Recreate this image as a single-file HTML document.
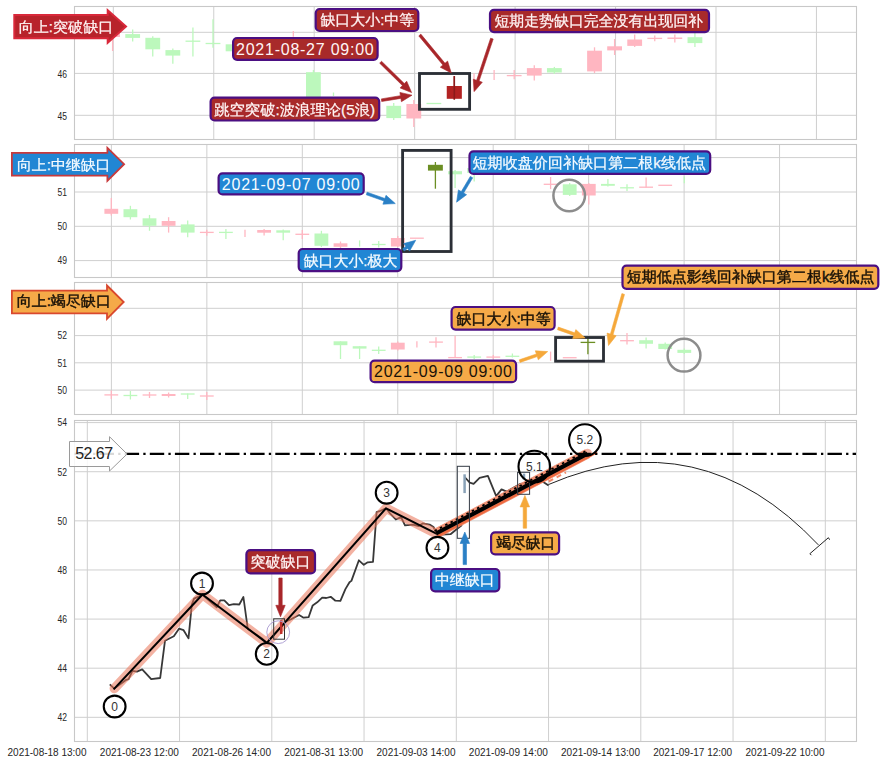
<!DOCTYPE html>
<html><head><meta charset="utf-8"><style>html,body{margin:0;padding:0;background:#fff;overflow:hidden}svg{display:block}</style></head>
<body><svg width="881" height="764" viewBox="0 0 881 764">
<rect width="881" height="764" fill="#fff"/>
<rect x="74.5" y="6.5" width="782.0" height="133.0" fill="#fff"/>
<line x1="74.5" y1="32.3" x2="856.5" y2="32.3" stroke="#cfcfcf" stroke-width="1"/>
<line x1="74.5" y1="73.4" x2="856.5" y2="73.4" stroke="#cfcfcf" stroke-width="1"/>
<line x1="74.5" y1="115.3" x2="856.5" y2="115.3" stroke="#cfcfcf" stroke-width="1"/>
<line x1="113.3" y1="6.5" x2="113.3" y2="139.5" stroke="#cfcfcf" stroke-width="1"/>
<line x1="213.75" y1="6.5" x2="213.75" y2="139.5" stroke="#cfcfcf" stroke-width="1"/>
<line x1="314.2" y1="6.5" x2="314.2" y2="139.5" stroke="#cfcfcf" stroke-width="1"/>
<line x1="414.65000000000003" y1="6.5" x2="414.65000000000003" y2="139.5" stroke="#cfcfcf" stroke-width="1"/>
<line x1="515.1" y1="6.5" x2="515.1" y2="139.5" stroke="#cfcfcf" stroke-width="1"/>
<line x1="615.55" y1="6.5" x2="615.55" y2="139.5" stroke="#cfcfcf" stroke-width="1"/>
<line x1="716.0" y1="6.5" x2="716.0" y2="139.5" stroke="#cfcfcf" stroke-width="1"/>
<line x1="816.4499999999999" y1="6.5" x2="816.4499999999999" y2="139.5" stroke="#cfcfcf" stroke-width="1"/>
<line x1="112.60" y1="22" x2="112.60" y2="51" stroke="#ffb6c1" stroke-width="1.3"/>
<rect x="105.20" y="26" width="14.8" height="11.00" fill="#ffb6c1"/>
<line x1="132.68" y1="29.6" x2="132.68" y2="41.6" stroke="#bcf8bc" stroke-width="1.3"/>
<rect x="125.28" y="34.1" width="14.8" height="3.80" fill="#bcf8bc"/>
<line x1="152.76" y1="36.3" x2="152.76" y2="56.4" stroke="#bcf8bc" stroke-width="1.3"/>
<rect x="145.36" y="37.8" width="14.8" height="11.50" fill="#bcf8bc"/>
<line x1="172.84" y1="48.5" x2="172.84" y2="63.7" stroke="#bcf8bc" stroke-width="1.3"/>
<rect x="165.44" y="50.1" width="14.8" height="5.50" fill="#bcf8bc"/>
<line x1="192.92" y1="27.4" x2="192.92" y2="56.5" stroke="#bcf8bc" stroke-width="1.3"/>
<line x1="185.52" y1="41.2" x2="200.32" y2="41.2" stroke="#bcf8bc" stroke-width="1.3"/>
<line x1="213.00" y1="19.3" x2="213.00" y2="47.8" stroke="#bcf8bc" stroke-width="1.3"/>
<line x1="205.60" y1="43.5" x2="220.40" y2="43.5" stroke="#bcf8bc" stroke-width="1.3"/>
<line x1="233.08" y1="42" x2="233.08" y2="55" stroke="#bcf8bc" stroke-width="1.3"/>
<rect x="225.68" y="44.3" width="14.8" height="7.00" fill="#bcf8bc"/>
<line x1="293.32" y1="31" x2="293.32" y2="36.7" stroke="#ffb6c1" stroke-width="1.3"/>
<line x1="313.40" y1="70" x2="313.40" y2="100" stroke="#bcf8bc" stroke-width="1.3"/>
<rect x="306.00" y="72.2" width="14.8" height="25.80" fill="#bcf8bc"/>
<line x1="333.48" y1="92.5" x2="333.48" y2="96" stroke="#bcf8bc" stroke-width="1.3"/>
<line x1="393.72" y1="103" x2="393.72" y2="120" stroke="#bcf8bc" stroke-width="1.3"/>
<rect x="386.32" y="105.8" width="14.8" height="12.30" fill="#bcf8bc"/>
<line x1="413.80" y1="100" x2="413.80" y2="127" stroke="#ffb6c1" stroke-width="1.3"/>
<rect x="406.40" y="104" width="14.8" height="14.50" fill="#ffb6c1"/>
<line x1="426.48" y1="103.5" x2="441.28" y2="103.5" stroke="#bcf8bc" stroke-width="1.3"/>
<line x1="474.04" y1="73.3" x2="474.04" y2="91.3" stroke="#ffb6c1" stroke-width="1.3"/>
<line x1="494.12" y1="70" x2="494.12" y2="80.1" stroke="#ffb6c1" stroke-width="1.3"/>
<line x1="514.20" y1="70" x2="514.20" y2="79.3" stroke="#ffb6c1" stroke-width="1.3"/>
<line x1="506.80" y1="75.6" x2="521.60" y2="75.6" stroke="#ffb6c1" stroke-width="1.3"/>
<line x1="534.28" y1="65.2" x2="534.28" y2="80.6" stroke="#ffb6c1" stroke-width="1.3"/>
<rect x="526.88" y="68.1" width="14.8" height="7.50" fill="#ffb6c1"/>
<line x1="554.36" y1="66.9" x2="554.36" y2="74" stroke="#bcf8bc" stroke-width="1.3"/>
<rect x="546.96" y="68.1" width="14.8" height="4.40" fill="#bcf8bc"/>
<line x1="594.52" y1="47.3" x2="594.52" y2="73" stroke="#ffb6c1" stroke-width="1.3"/>
<rect x="587.12" y="50.7" width="14.8" height="20.70" fill="#ffb6c1"/>
<line x1="614.60" y1="39" x2="614.60" y2="55" stroke="#ffb6c1" stroke-width="1.3"/>
<rect x="607.20" y="46.3" width="14.8" height="4.10" fill="#ffb6c1"/>
<line x1="634.68" y1="34.5" x2="634.68" y2="47" stroke="#ffb6c1" stroke-width="1.3"/>
<rect x="627.28" y="39.5" width="14.8" height="6.40" fill="#ffb6c1"/>
<line x1="654.76" y1="35.6" x2="654.76" y2="41.3" stroke="#ffb6c1" stroke-width="1.3"/>
<line x1="647.36" y1="38.4" x2="662.16" y2="38.4" stroke="#ffb6c1" stroke-width="1.3"/>
<line x1="674.84" y1="34.5" x2="674.84" y2="42.5" stroke="#ffb6c1" stroke-width="1.3"/>
<rect x="667.44" y="37.5" width="14.8" height="1.50" fill="#ffb6c1"/>
<line x1="694.92" y1="33" x2="694.92" y2="47" stroke="#bcf8bc" stroke-width="1.3"/>
<rect x="687.52" y="37.2" width="14.8" height="5.90" fill="#bcf8bc"/>
<line x1="454.30" y1="76.1" x2="454.30" y2="99.6" stroke="#b22222" stroke-width="1.3"/>
<rect x="446.75" y="86" width="15.1" height="12.80" fill="#b22222"/>
<line x1="454.3" y1="76.1" x2="454.3" y2="99.6" stroke="#8b1a1a" stroke-width="1.6"/>
<rect x="74.5" y="6.5" width="782.0" height="133.0" fill="none" stroke="#c8c8c8" stroke-width="1.1"/>
<text x="57.40" y="77.80" font-family="'Liberation Sans',sans-serif" font-size="10" fill="#262626" textLength="9.50" lengthAdjust="spacingAndGlyphs">46</text>
<text x="57.40" y="119.50" font-family="'Liberation Sans',sans-serif" font-size="10" fill="#262626" textLength="9.50" lengthAdjust="spacingAndGlyphs">45</text>
<rect x="74.5" y="144.5" width="782.0" height="133.0" fill="#fff"/>
<line x1="74.5" y1="157.6" x2="856.5" y2="157.6" stroke="#cfcfcf" stroke-width="1"/>
<line x1="74.5" y1="192.0" x2="856.5" y2="192.0" stroke="#cfcfcf" stroke-width="1"/>
<line x1="74.5" y1="226.3" x2="856.5" y2="226.3" stroke="#cfcfcf" stroke-width="1"/>
<line x1="74.5" y1="260.6" x2="856.5" y2="260.6" stroke="#cfcfcf" stroke-width="1"/>
<line x1="111.4" y1="144.5" x2="111.4" y2="277.5" stroke="#cfcfcf" stroke-width="1"/>
<line x1="206.85000000000002" y1="144.5" x2="206.85000000000002" y2="277.5" stroke="#cfcfcf" stroke-width="1"/>
<line x1="302.3" y1="144.5" x2="302.3" y2="277.5" stroke="#cfcfcf" stroke-width="1"/>
<line x1="397.75" y1="144.5" x2="397.75" y2="277.5" stroke="#cfcfcf" stroke-width="1"/>
<line x1="493.20000000000005" y1="144.5" x2="493.20000000000005" y2="277.5" stroke="#cfcfcf" stroke-width="1"/>
<line x1="588.65" y1="144.5" x2="588.65" y2="277.5" stroke="#cfcfcf" stroke-width="1"/>
<line x1="684.1" y1="144.5" x2="684.1" y2="277.5" stroke="#cfcfcf" stroke-width="1"/>
<line x1="779.55" y1="144.5" x2="779.55" y2="277.5" stroke="#cfcfcf" stroke-width="1"/>
<line x1="111.30" y1="197.9" x2="111.30" y2="215.4" stroke="#ffb6c1" stroke-width="1.3"/>
<rect x="104.40" y="208.8" width="13.8" height="5.00" fill="#ffb6c1"/>
<line x1="130.40" y1="205.8" x2="130.40" y2="219.5" stroke="#bcf8bc" stroke-width="1.3"/>
<rect x="123.50" y="209.2" width="13.8" height="8.00" fill="#bcf8bc"/>
<line x1="149.50" y1="214.9" x2="149.50" y2="230.8" stroke="#bcf8bc" stroke-width="1.3"/>
<rect x="142.60" y="218.3" width="13.8" height="7.50" fill="#bcf8bc"/>
<line x1="168.60" y1="217.2" x2="168.60" y2="232.6" stroke="#ffb6c1" stroke-width="1.3"/>
<rect x="161.70" y="221" width="13.8" height="4.80" fill="#ffb6c1"/>
<line x1="187.70" y1="220.6" x2="187.70" y2="237.2" stroke="#bcf8bc" stroke-width="1.3"/>
<rect x="180.80" y="224.4" width="13.8" height="8.20" fill="#bcf8bc"/>
<line x1="206.80" y1="229.7" x2="206.80" y2="235.8" stroke="#ffb6c1" stroke-width="1.3"/>
<line x1="199.90" y1="232.4" x2="213.70" y2="232.4" stroke="#ffb6c1" stroke-width="1.3"/>
<line x1="225.90" y1="229" x2="225.90" y2="239" stroke="#bcf8bc" stroke-width="1.3"/>
<line x1="219.00" y1="232.4" x2="232.80" y2="232.4" stroke="#bcf8bc" stroke-width="1.3"/>
<line x1="245.00" y1="229.7" x2="245.00" y2="237" stroke="#ffb6c1" stroke-width="1.3"/>
<line x1="264.10" y1="229" x2="264.10" y2="235.4" stroke="#ffb6c1" stroke-width="1.3"/>
<rect x="257.20" y="230" width="13.8" height="2.70" fill="#ffb6c1"/>
<line x1="283.20" y1="229.5" x2="283.20" y2="240.3" stroke="#bcf8bc" stroke-width="1.3"/>
<rect x="276.30" y="230.3" width="13.8" height="2.40" fill="#bcf8bc"/>
<line x1="302.30" y1="230" x2="302.30" y2="239" stroke="#ffb6c1" stroke-width="1.3"/>
<line x1="295.40" y1="234.3" x2="309.20" y2="234.3" stroke="#ffb6c1" stroke-width="1.3"/>
<line x1="321.40" y1="230.8" x2="321.40" y2="247" stroke="#bcf8bc" stroke-width="1.3"/>
<rect x="314.50" y="233.5" width="13.8" height="12.30" fill="#bcf8bc"/>
<line x1="340.50" y1="241.5" x2="340.50" y2="248" stroke="#ffb6c1" stroke-width="1.3"/>
<rect x="333.60" y="243.3" width="13.8" height="3.50" fill="#ffb6c1"/>
<line x1="359.60" y1="240.4" x2="359.60" y2="246.6" stroke="#bcf8bc" stroke-width="1.3"/>
<line x1="378.70" y1="241" x2="378.70" y2="247.5" stroke="#bcf8bc" stroke-width="1.3"/>
<line x1="371.80" y1="244.5" x2="385.60" y2="244.5" stroke="#bcf8bc" stroke-width="1.3"/>
<line x1="397.80" y1="236" x2="397.80" y2="247" stroke="#ffb6c1" stroke-width="1.3"/>
<rect x="390.90" y="238.0" width="13.8" height="8.50" fill="#ffb6c1"/>
<line x1="410.00" y1="238.2" x2="423.80" y2="238.2" stroke="#ffb6c1" stroke-width="1.3"/>
<line x1="455.10" y1="170" x2="455.10" y2="187.9" stroke="#bcf8bc" stroke-width="1.3"/>
<rect x="448.20" y="171.2" width="13.8" height="3.10" fill="#bcf8bc"/>
<line x1="474.20" y1="168" x2="474.20" y2="181.6" stroke="#bcf8bc" stroke-width="1.3"/>
<rect x="467.30" y="168" width="13.8" height="5.00" fill="#bcf8bc"/>
<line x1="550.60" y1="177" x2="550.60" y2="189.1" stroke="#ffb6c1" stroke-width="1.3"/>
<line x1="543.70" y1="184.3" x2="557.50" y2="184.3" stroke="#ffb6c1" stroke-width="1.3"/>
<line x1="569.70" y1="183" x2="569.70" y2="196" stroke="#bcf8bc" stroke-width="1.3"/>
<rect x="562.80" y="184.3" width="13.8" height="10.60" fill="#bcf8bc"/>
<line x1="588.80" y1="183" x2="588.80" y2="204.6" stroke="#ffb6c1" stroke-width="1.3"/>
<rect x="581.90" y="183.9" width="13.8" height="11.60" fill="#ffb6c1"/>
<line x1="607.90" y1="178.9" x2="607.90" y2="186.5" stroke="#bcf8bc" stroke-width="1.3"/>
<rect x="601.00" y="183.9" width="13.8" height="1.90" fill="#bcf8bc"/>
<line x1="627.00" y1="184.3" x2="627.00" y2="191" stroke="#bcf8bc" stroke-width="1.3"/>
<line x1="620.10" y1="187.8" x2="633.90" y2="187.8" stroke="#bcf8bc" stroke-width="1.3"/>
<line x1="646.10" y1="177.5" x2="646.10" y2="187.6" stroke="#ffb6c1" stroke-width="1.3"/>
<line x1="639.20" y1="187.2" x2="653.00" y2="187.2" stroke="#ffb6c1" stroke-width="1.3"/>
<line x1="658.30" y1="185.3" x2="672.10" y2="185.3" stroke="#ffb6c1" stroke-width="1.3"/>
<line x1="684.30" y1="176.6" x2="684.30" y2="183.3" stroke="#bcf8bc" stroke-width="1.3"/>
<line x1="435.40" y1="162" x2="435.40" y2="188.7" stroke="#6b8e23" stroke-width="1.3"/>
<rect x="427.95" y="164.8" width="14.9" height="5.80" fill="#6b8e23"/>
<rect x="74.5" y="144.5" width="782.0" height="133.0" fill="none" stroke="#c8c8c8" stroke-width="1.1"/>
<text x="57.40" y="195.80" font-family="'Liberation Sans',sans-serif" font-size="10" fill="#262626" textLength="9.50" lengthAdjust="spacingAndGlyphs">51</text>
<text x="57.40" y="230.10" font-family="'Liberation Sans',sans-serif" font-size="10" fill="#262626" textLength="9.50" lengthAdjust="spacingAndGlyphs">50</text>
<text x="57.40" y="264.40" font-family="'Liberation Sans',sans-serif" font-size="10" fill="#262626" textLength="9.50" lengthAdjust="spacingAndGlyphs">49</text>
<rect x="74.5" y="282.5" width="782.0" height="132.0" fill="#fff"/>
<line x1="74.5" y1="308.3" x2="856.5" y2="308.3" stroke="#cfcfcf" stroke-width="1"/>
<line x1="74.5" y1="335.6" x2="856.5" y2="335.6" stroke="#cfcfcf" stroke-width="1"/>
<line x1="74.5" y1="362.8" x2="856.5" y2="362.8" stroke="#cfcfcf" stroke-width="1"/>
<line x1="74.5" y1="390.1" x2="856.5" y2="390.1" stroke="#cfcfcf" stroke-width="1"/>
<line x1="111.4" y1="282.5" x2="111.4" y2="414.5" stroke="#cfcfcf" stroke-width="1"/>
<line x1="206.85000000000002" y1="282.5" x2="206.85000000000002" y2="414.5" stroke="#cfcfcf" stroke-width="1"/>
<line x1="302.3" y1="282.5" x2="302.3" y2="414.5" stroke="#cfcfcf" stroke-width="1"/>
<line x1="397.75" y1="282.5" x2="397.75" y2="414.5" stroke="#cfcfcf" stroke-width="1"/>
<line x1="493.20000000000005" y1="282.5" x2="493.20000000000005" y2="414.5" stroke="#cfcfcf" stroke-width="1"/>
<line x1="588.65" y1="282.5" x2="588.65" y2="414.5" stroke="#cfcfcf" stroke-width="1"/>
<line x1="684.1" y1="282.5" x2="684.1" y2="414.5" stroke="#cfcfcf" stroke-width="1"/>
<line x1="779.55" y1="282.5" x2="779.55" y2="414.5" stroke="#cfcfcf" stroke-width="1"/>
<line x1="111.30" y1="390.5" x2="111.30" y2="399" stroke="#ffb6c1" stroke-width="1.3"/>
<line x1="104.40" y1="394.9" x2="118.20" y2="394.9" stroke="#ffb6c1" stroke-width="1.3"/>
<line x1="130.40" y1="391" x2="130.40" y2="399.5" stroke="#bcf8bc" stroke-width="1.3"/>
<line x1="123.50" y1="395.5" x2="137.30" y2="395.5" stroke="#bcf8bc" stroke-width="1.3"/>
<line x1="149.50" y1="392" x2="149.50" y2="398" stroke="#ffb6c1" stroke-width="1.3"/>
<line x1="142.60" y1="395.0" x2="156.40" y2="395.0" stroke="#ffb6c1" stroke-width="1.3"/>
<line x1="168.60" y1="392.5" x2="168.60" y2="397.5" stroke="#ffb6c1" stroke-width="1.3"/>
<rect x="161.70" y="394" width="13.8" height="2.00" fill="#ffb6c1"/>
<line x1="187.70" y1="393.6" x2="187.70" y2="399" stroke="#bcf8bc" stroke-width="1.3"/>
<line x1="180.80" y1="394.0" x2="194.60" y2="394.0" stroke="#bcf8bc" stroke-width="1.3"/>
<line x1="206.80" y1="392" x2="206.80" y2="400" stroke="#ffb6c1" stroke-width="1.3"/>
<line x1="199.90" y1="396.0" x2="213.70" y2="396.0" stroke="#ffb6c1" stroke-width="1.3"/>
<line x1="340.50" y1="341.3" x2="340.50" y2="359" stroke="#bcf8bc" stroke-width="1.3"/>
<rect x="333.60" y="341.3" width="13.8" height="3.90" fill="#bcf8bc"/>
<line x1="359.60" y1="346.2" x2="359.60" y2="359" stroke="#bcf8bc" stroke-width="1.3"/>
<rect x="352.70" y="346.2" width="13.8" height="2.40" fill="#bcf8bc"/>
<line x1="378.70" y1="346.5" x2="378.70" y2="354" stroke="#bcf8bc" stroke-width="1.3"/>
<line x1="371.80" y1="350.29999999999995" x2="385.60" y2="350.29999999999995" stroke="#bcf8bc" stroke-width="1.3"/>
<line x1="397.80" y1="341.5" x2="397.80" y2="350.5" stroke="#ffb6c1" stroke-width="1.3"/>
<rect x="390.90" y="342.7" width="13.8" height="6.80" fill="#ffb6c1"/>
<line x1="416.90" y1="341.3" x2="416.90" y2="347.6" stroke="#ffb6c1" stroke-width="1.3"/>
<line x1="436.00" y1="337.2" x2="436.00" y2="347.6" stroke="#ffb6c1" stroke-width="1.3"/>
<line x1="429.10" y1="342.1" x2="442.90" y2="342.1" stroke="#ffb6c1" stroke-width="1.3"/>
<line x1="455.10" y1="335.8" x2="455.10" y2="357.6" stroke="#ffb6c1" stroke-width="1.3"/>
<line x1="448.20" y1="357.6" x2="462.00" y2="357.6" stroke="#ffb6c1" stroke-width="1.3"/>
<line x1="474.20" y1="355" x2="474.20" y2="359" stroke="#bcf8bc" stroke-width="1.3"/>
<line x1="467.30" y1="357.1" x2="481.10" y2="357.1" stroke="#bcf8bc" stroke-width="1.3"/>
<line x1="493.30" y1="355" x2="493.30" y2="359" stroke="#ffb6c1" stroke-width="1.3"/>
<line x1="486.40" y1="357.1" x2="500.20" y2="357.1" stroke="#ffb6c1" stroke-width="1.3"/>
<line x1="512.40" y1="353.5" x2="512.40" y2="357.5" stroke="#bcf8bc" stroke-width="1.3"/>
<line x1="505.50" y1="356.29999999999995" x2="519.30" y2="356.29999999999995" stroke="#bcf8bc" stroke-width="1.3"/>
<line x1="550.60" y1="351.6" x2="550.60" y2="360.7" stroke="#ffb6c1" stroke-width="1.3"/>
<line x1="562.80" y1="357.70000000000005" x2="576.60" y2="357.70000000000005" stroke="#ffb6c1" stroke-width="1.3"/>
<line x1="627.00" y1="333.0" x2="627.00" y2="344.4" stroke="#ffb6c1" stroke-width="1.3"/>
<line x1="620.10" y1="340.70000000000005" x2="633.90" y2="340.70000000000005" stroke="#ffb6c1" stroke-width="1.3"/>
<line x1="646.10" y1="337.6" x2="646.10" y2="348.4" stroke="#bcf8bc" stroke-width="1.3"/>
<rect x="639.20" y="340.2" width="13.8" height="3.60" fill="#bcf8bc"/>
<line x1="665.20" y1="342.5" x2="665.20" y2="349.5" stroke="#bcf8bc" stroke-width="1.3"/>
<rect x="658.30" y="343.8" width="13.8" height="5.20" fill="#bcf8bc"/>
<line x1="684.30" y1="348.5" x2="684.30" y2="354" stroke="#bcf8bc" stroke-width="1.3"/>
<rect x="677.40" y="349.8" width="13.8" height="3.10" fill="#bcf8bc"/>
<line x1="587.90" y1="337.9" x2="587.90" y2="354.3" stroke="#6b8e23" stroke-width="1.3"/>
<line x1="580.60" y1="342.4" x2="595.20" y2="342.4" stroke="#6b8e23" stroke-width="1.3"/>
<rect x="74.5" y="282.5" width="782.0" height="132.0" fill="none" stroke="#c8c8c8" stroke-width="1.1"/>
<text x="57.40" y="339.40" font-family="'Liberation Sans',sans-serif" font-size="10" fill="#262626" textLength="9.50" lengthAdjust="spacingAndGlyphs">52</text>
<text x="57.40" y="366.60" font-family="'Liberation Sans',sans-serif" font-size="10" fill="#262626" textLength="9.50" lengthAdjust="spacingAndGlyphs">51</text>
<text x="57.40" y="393.90" font-family="'Liberation Sans',sans-serif" font-size="10" fill="#262626" textLength="9.50" lengthAdjust="spacingAndGlyphs">50</text>
<rect x="74.5" y="420.5" width="782.0" height="321.0" fill="#fff"/>
<line x1="74.5" y1="422.6" x2="856.5" y2="422.6" stroke="#cfcfcf" stroke-width="1"/>
<line x1="74.5" y1="471.72" x2="856.5" y2="471.72" stroke="#cfcfcf" stroke-width="1"/>
<line x1="74.5" y1="520.84" x2="856.5" y2="520.84" stroke="#cfcfcf" stroke-width="1"/>
<line x1="74.5" y1="569.96" x2="856.5" y2="569.96" stroke="#cfcfcf" stroke-width="1"/>
<line x1="74.5" y1="619.08" x2="856.5" y2="619.08" stroke="#cfcfcf" stroke-width="1"/>
<line x1="74.5" y1="668.2" x2="856.5" y2="668.2" stroke="#cfcfcf" stroke-width="1"/>
<line x1="74.5" y1="717.3199999999999" x2="856.5" y2="717.3199999999999" stroke="#cfcfcf" stroke-width="1"/>
<line x1="87.3" y1="420.5" x2="87.3" y2="741.5" stroke="#cfcfcf" stroke-width="1"/>
<line x1="179.55" y1="420.5" x2="179.55" y2="741.5" stroke="#cfcfcf" stroke-width="1"/>
<line x1="271.8" y1="420.5" x2="271.8" y2="741.5" stroke="#cfcfcf" stroke-width="1"/>
<line x1="364.05" y1="420.5" x2="364.05" y2="741.5" stroke="#cfcfcf" stroke-width="1"/>
<line x1="456.3" y1="420.5" x2="456.3" y2="741.5" stroke="#cfcfcf" stroke-width="1"/>
<line x1="548.55" y1="420.5" x2="548.55" y2="741.5" stroke="#cfcfcf" stroke-width="1"/>
<line x1="640.8" y1="420.5" x2="640.8" y2="741.5" stroke="#cfcfcf" stroke-width="1"/>
<line x1="733.05" y1="420.5" x2="733.05" y2="741.5" stroke="#cfcfcf" stroke-width="1"/>
<line x1="825.3" y1="420.5" x2="825.3" y2="741.5" stroke="#cfcfcf" stroke-width="1"/>
<rect x="74.5" y="420.5" width="782.0" height="321.0" fill="none" stroke="#c8c8c8" stroke-width="1.1"/>
<text x="57.40" y="426.40" font-family="'Liberation Sans',sans-serif" font-size="10" fill="#262626" textLength="9.50" lengthAdjust="spacingAndGlyphs">54</text>
<text x="57.40" y="475.52" font-family="'Liberation Sans',sans-serif" font-size="10" fill="#262626" textLength="9.50" lengthAdjust="spacingAndGlyphs">52</text>
<text x="57.40" y="524.64" font-family="'Liberation Sans',sans-serif" font-size="10" fill="#262626" textLength="9.50" lengthAdjust="spacingAndGlyphs">50</text>
<text x="57.40" y="573.76" font-family="'Liberation Sans',sans-serif" font-size="10" fill="#262626" textLength="9.50" lengthAdjust="spacingAndGlyphs">48</text>
<text x="57.40" y="622.88" font-family="'Liberation Sans',sans-serif" font-size="10" fill="#262626" textLength="9.50" lengthAdjust="spacingAndGlyphs">46</text>
<text x="57.40" y="672.00" font-family="'Liberation Sans',sans-serif" font-size="10" fill="#262626" textLength="9.50" lengthAdjust="spacingAndGlyphs">44</text>
<text x="57.40" y="721.12" font-family="'Liberation Sans',sans-serif" font-size="10" fill="#262626" textLength="9.50" lengthAdjust="spacingAndGlyphs">42</text>
<text x="86.5" y="755.6" font-family="'Liberation Sans',sans-serif" font-size="10" fill="#262626" text-anchor="end">2021-08-18 13:00</text>
<text x="178.8" y="755.6" font-family="'Liberation Sans',sans-serif" font-size="10" fill="#262626" text-anchor="end">2021-08-23 12:00</text>
<text x="271.0" y="755.6" font-family="'Liberation Sans',sans-serif" font-size="10" fill="#262626" text-anchor="end">2021-08-26 14:00</text>
<text x="363.2" y="755.6" font-family="'Liberation Sans',sans-serif" font-size="10" fill="#262626" text-anchor="end">2021-08-31 13:00</text>
<text x="455.5" y="755.6" font-family="'Liberation Sans',sans-serif" font-size="10" fill="#262626" text-anchor="end">2021-09-03 14:00</text>
<text x="547.8" y="755.6" font-family="'Liberation Sans',sans-serif" font-size="10" fill="#262626" text-anchor="end">2021-09-09 14:00</text>
<text x="640.0" y="755.6" font-family="'Liberation Sans',sans-serif" font-size="10" fill="#262626" text-anchor="end">2021-09-14 13:00</text>
<text x="732.2" y="755.6" font-family="'Liberation Sans',sans-serif" font-size="10" fill="#262626" text-anchor="end">2021-09-17 12:00</text>
<text x="824.5" y="755.6" font-family="'Liberation Sans',sans-serif" font-size="10" fill="#262626" text-anchor="end">2021-09-22 10:00</text>
<polyline points="109.8,684.4 114.3,688.6 125.6,680.2 128.6,679.1 132.4,670.8 136.9,671.6 142.2,669.3 151.2,679.1 160.2,678.0 165.0,640.7 173.8,636.2 179.0,628.7 183.6,630.2 188.5,638.4 191.8,604.6 194.1,598.6 202.4,594.8 216.8,607.2 220.2,600.4 224.3,600.4 229,605.2 233.8,604.2 239.3,604.5 243.4,597 247.8,629 262,638.5 266.8,642.9 285.5,621.8 291,619.3 299.1,615 303.6,617.7 308.6,617.2 312.7,605.4 317.2,602.3 322.2,597.7 326.3,598 330.7,596.8 335.4,600.7 340.4,600.9 345.4,589.1 349.5,582.3 351.4,580.9 358.9,560.3 363.8,564.8 367.7,562.3 373,561.9 376.6,512.2 379.5,511.2 386,508.3 390.7,514.2 395.8,519.5 401.1,517.1 405,525.4 412.9,524.6 418.8,526 422.7,523.4 429.6,524.6 433.5,527 437.4,534.8 450.5,534.2 457.5,528.5 462,525" fill="none" stroke="#383838" stroke-width="1.8" stroke-linejoin="round"/>
<polyline points="464.6,477 469.8,482.6 473.6,483.8 479.6,477.8 487.9,475.8 496.2,496.1 501.5,489.4 506.7,491.6 520,484 542.9,481.7 548.6,485.6" fill="none" stroke="#383838" stroke-width="1.8" stroke-linejoin="round"/>
<polyline points="114.3,688.6 202.5,594.5 266.8,642.9 386.0,508.3 436.0,533.5 587.5,453.6" fill="none" stroke="#e97355" stroke-opacity="0.55" stroke-width="9.5" stroke-linejoin="round" stroke-linecap="round"/>
<polyline points="114.3,688.6 202.5,594.5 266.8,642.9 386.0,508.3 436.0,533.5" fill="none" stroke="#000" stroke-width="2" stroke-linejoin="round" stroke-linecap="square"/>
<line x1="436.0" y1="533.5" x2="587.5" y2="453.6" stroke="#f08a6a" stroke-opacity="0.8" stroke-width="10"/>
<line x1="437.5" y1="536.3" x2="597.0" y2="452.4" stroke="#ee6a40" stroke-width="2.2"/>
<line x1="436.0" y1="533.5" x2="587.5" y2="453.6" stroke="#000" stroke-width="4.2"/>
<line x1="434.6" y1="530.9" x2="586.1" y2="451.0" stroke="#000" stroke-width="1.8" stroke-dasharray="2.5,3.5"/>
<line x1="548.7" y1="481.5" x2="566" y2="472.3" stroke="#f08a6a" stroke-width="2" stroke-dasharray="5,4"/>
<path d="M548.6,484.5 Q 700,419.5 818.4,544.9" fill="none" stroke="#222" stroke-width="1"/>
<polyline points="811.4,555.2 809.9,553.7 828.4,537.7 829.6,539.7" fill="none" stroke="#222" stroke-width="1"/>
<line x1="74.5" y1="453.9" x2="856" y2="453.9" stroke="#000" stroke-width="2.4" stroke-dasharray="14.4,4.2,2.3,4.2"/>
<rect x="273.7" y="618.8" width="10.8" height="20.4" fill="none" stroke="#333" stroke-width="1"/>
<line x1="281.2" y1="620.3" x2="281.2" y2="634.0" stroke="#c0302c" stroke-width="2.5"/>
<circle cx="278.2" cy="632.2" r="11.4" fill="none" stroke="#a898d0" stroke-width="0.9"/>
<rect x="457.3" y="466.3" width="12.1" height="72" fill="none" stroke="#333a44" stroke-width="1"/>
<line x1="464.6" y1="474.3" x2="464.6" y2="493.1" stroke="#8aa2b8" stroke-width="2.5"/>
<rect x="517.6" y="472.3" width="12" height="22" fill="none" stroke="#333a44" stroke-width="1"/>
<line x1="524" y1="473.6" x2="524" y2="479.6" stroke="#8aa2b8" stroke-width="2.5"/>
<rect x="419.5" y="73.5" width="50.1" height="35.8" fill="none" stroke="#2b2f36" stroke-width="2.85"/>
<rect x="402.6" y="150.4" width="48.5" height="101.1" fill="none" stroke="#2b2f36" stroke-width="2.85"/>
<rect x="555.6" y="337.5" width="47.9" height="23.7" fill="none" stroke="#2b2f36" stroke-width="2.85"/>
<circle cx="569.2" cy="195.5" r="15.8" fill="none" stroke="#8c8c8c" stroke-width="2.5"/>
<circle cx="684.0" cy="355.2" r="16.4" fill="none" stroke="#8c8c8c" stroke-width="2.5"/>
<polygon points="379.7,63.2 402.4,85.5 400.1,87.9 411.6,92.6 406.7,81.2 404.3,83.6 381.5,61.2" fill="#a8262a" stroke="#a8262a" stroke-width="0.6" stroke-linejoin="miter"/>
<polygon points="381.7,101.5 400.9,98.4 401.4,101.7 412.0,95.2 399.9,92.4 400.4,95.7 381.3,98.9" fill="#a8262a" stroke="#a8262a" stroke-width="0.6" stroke-linejoin="miter"/>
<polygon points="418.8,35.9 442.9,65.0 440.3,67.2 451.3,73.0 447.6,61.1 445.0,63.3 420.8,34.1" fill="#a8262a" stroke="#a8262a" stroke-width="0.6" stroke-linejoin="miter"/>
<polygon points="490.6,38.2 476.6,80.3 473.3,79.2 474.2,91.6 482.3,82.2 479.1,81.1 493.2,39.0" fill="#a8262a" stroke="#a8262a" stroke-width="0.6" stroke-linejoin="miter"/>
<polygon points="366.3,194.8 384.0,201.0 382.9,204.2 395.3,203.6 386.0,195.3 384.9,198.5 367.1,192.2" fill="#2a80c6" stroke="#2a80c6" stroke-width="0.6" stroke-linejoin="miter"/>
<polygon points="404.2,251.0 407.5,248.4 409.6,251.1 415.7,240.3 403.7,243.6 405.8,246.3 402.6,248.8" fill="#2a80c6" stroke="#2a80c6" stroke-width="0.6" stroke-linejoin="miter"/>
<polygon points="470.3,176.4 461.3,191.6 458.4,189.9 456.6,202.2 466.6,194.7 463.6,193.0 472.7,177.8" fill="#2a80c6" stroke="#2a80c6" stroke-width="0.6" stroke-linejoin="miter"/>
<polygon points="520.1,362.4 537.2,356.6 538.3,359.8 547.7,351.6 535.3,350.8 536.4,354.0 519.3,359.8" fill="#f5a83a" stroke="#f5a83a" stroke-width="0.6" stroke-linejoin="miter"/>
<polygon points="557.5,329.7 573.8,335.4 572.7,338.6 585.1,337.9 575.8,329.6 574.7,332.8 558.3,327.1" fill="#f5a83a" stroke="#f5a83a" stroke-width="0.6" stroke-linejoin="miter"/>
<polygon points="621.9,293.6 610.4,334.1 607.1,333.1 608.5,345.5 616.2,335.7 613.0,334.8 624.5,294.4" fill="#f5a83a" stroke="#f5a83a" stroke-width="0.6" stroke-linejoin="miter"/>
<polygon points="278.8,578.0 278.8,605.3 275.8,605.3 280.5,616.8 285.2,605.3 282.2,605.3 282.2,578.0" fill="#a8262a" stroke="#a8262a" stroke-width="0.6" stroke-linejoin="miter"/>
<polygon points="466.5,564.6 466.5,543.5 469.6,543.5 464.8,532.0 460.1,543.5 463.1,543.5 463.1,564.6" fill="#2a80c6" stroke="#2a80c6" stroke-width="0.6" stroke-linejoin="miter"/>
<polygon points="526.6,528.2 526.6,506.9 529.6,506.9 524.9,495.4 520.1,506.9 523.2,506.9 523.2,528.2" fill="#f5a83a" stroke="#f5a83a" stroke-width="0.6" stroke-linejoin="miter"/>
<rect x="315.70" y="9.00" width="102.60" height="22.00" rx="4" fill="#a82a2a" stroke="#4b0f82" stroke-width="2.2"/>
<rect x="490.00" y="9.80" width="219.00" height="22.30" rx="4" fill="#a82a2a" stroke="#4b0f82" stroke-width="2.2"/>
<rect x="233.10" y="38.00" width="144.50" height="21.80" rx="4" fill="#a82a2a" stroke="#4b0f82" stroke-width="2.2"/>
<rect x="210.60" y="97.60" width="168.60" height="22.90" rx="4" fill="#a82a2a" stroke="#4b0f82" stroke-width="2.2"/>
<rect x="218.60" y="173.40" width="145.10" height="21.00" rx="4" fill="#2186d4" stroke="#4b0f82" stroke-width="2.2"/>
<rect x="298.70" y="249.00" width="102.60" height="22.10" rx="4" fill="#2186d4" stroke="#4b0f82" stroke-width="2.2"/>
<rect x="469.50" y="151.40" width="240.70" height="22.50" rx="4" fill="#2186d4" stroke="#4b0f82" stroke-width="2.2"/>
<rect x="451.60" y="307.00" width="103.00" height="22.60" rx="4" fill="#f5aa48" stroke="#4b0f82" stroke-width="2.2"/>
<rect x="370.60" y="360.60" width="145.50" height="21.60" rx="4" fill="#f5aa48" stroke="#4b0f82" stroke-width="2.2"/>
<rect x="622.50" y="265.70" width="255.80" height="23.10" rx="4" fill="#f5aa48" stroke="#4b0f82" stroke-width="2.2"/>
<rect x="246.40" y="550.20" width="68.60" height="23.20" rx="4" fill="#a82a2a" stroke="#4b0f82" stroke-width="2.2"/>
<rect x="431.10" y="569.00" width="68.20" height="22.30" rx="4" fill="#2186d4" stroke="#4b0f82" stroke-width="2.2"/>
<rect x="491.10" y="532.30" width="68.00" height="22.00" rx="4" fill="#f5aa48" stroke="#4b0f82" stroke-width="2.2"/>
<polygon points="14.3,15.0 107.7,15.0 107.7,10.2 126.0,26.6 107.7,42.8 107.7,38.3 14.3,38.3" fill="#b8232b" fill-opacity="1" stroke="#d9283a" stroke-width="2" stroke-linejoin="miter"/>
<polygon points="11.9,152.9 107.4,152.9 107.4,147.8 124.1,164.2 107.4,180.8 107.4,175.6 11.9,175.6" fill="#2186d4" fill-opacity="1" stroke="#c83a3c" stroke-width="1.8" stroke-linejoin="miter"/>
<polygon points="11.9,290.6 107.0,290.6 107.0,285.5 123.7,302.0 107.0,318.9 107.0,313.4 11.9,313.4" fill="#f5aa48" fill-opacity="1" stroke="#d9482e" stroke-width="1.8" stroke-linejoin="miter"/>
<polygon points="69.5,441.5 109.5,441.5 109.5,436.7 127.1,454.0 109.5,471.0 109.5,466.5 69.5,466.5" fill="#ffffff" fill-opacity="0.85" stroke="#9a9a9a" stroke-width="1" stroke-linejoin="miter"/>
<text x="18.76" y="31.88" font-family="'Liberation Sans','WenQuanYi Zen Hei',sans-serif" font-size="14.5" fill="#fff5f5" stroke="#fff5f5" stroke-width="0.25" textLength="94.55" lengthAdjust="spacingAndGlyphs">向上:突破缺口</text>
<text x="320.40" y="24.95" font-family="'Liberation Sans','WenQuanYi Zen Hei',sans-serif" font-size="15" fill="#fff5f5" stroke="#fff5f5" stroke-width="0.25" textLength="93.87" lengthAdjust="spacingAndGlyphs">缺口大小:中等</text>
<text x="494.41" y="26.20" font-family="'Liberation Sans','WenQuanYi Zen Hei',sans-serif" font-size="15" fill="#fff5f5" stroke="#fff5f5" stroke-width="0.25" textLength="208.59" lengthAdjust="spacingAndGlyphs">短期走势缺口完全没有出现回补</text>
<text x="236.00" y="54.85" font-family="'Liberation Sans','WenQuanYi Zen Hei',sans-serif" font-size="16" fill="#fff5f5" textLength="137.73" lengthAdjust="spacing">2021-08-27 09:00</text>
<text x="214.18" y="114.65" font-family="'Liberation Sans','WenQuanYi Zen Hei',sans-serif" font-size="15" fill="#fff5f5" stroke="#fff5f5" stroke-width="0.25" textLength="160.93" lengthAdjust="spacingAndGlyphs">跳空突破:波浪理论(5浪)</text>
<text x="16.97" y="169.73" font-family="'Liberation Sans','WenQuanYi Zen Hei',sans-serif" font-size="14.5" fill="#f5fbff" stroke="#f5fbff" stroke-width="0.25" textLength="93.51" lengthAdjust="spacingAndGlyphs">向上:中继缺口</text>
<text x="221.80" y="190.10" font-family="'Liberation Sans','WenQuanYi Zen Hei',sans-serif" font-size="16" fill="#f5fbff" textLength="137.93" lengthAdjust="spacing">2021-09-07 09:00</text>
<text x="303.70" y="265.80" font-family="'Liberation Sans','WenQuanYi Zen Hei',sans-serif" font-size="15" fill="#f5fbff" stroke="#f5fbff" stroke-width="0.25" textLength="93.67" lengthAdjust="spacingAndGlyphs">缺口大小:极大</text>
<text x="472.50" y="168.00" font-family="'Liberation Sans','WenQuanYi Zen Hei',sans-serif" font-size="15" fill="#f5fbff" stroke="#f5fbff" stroke-width="0.25" textLength="233.61" lengthAdjust="spacingAndGlyphs">短期收盘价回补缺口第二根k线低点</text>
<text x="16.66" y="306.13" font-family="'Liberation Sans','WenQuanYi Zen Hei',sans-serif" font-size="14.5" fill="#1a1208" stroke="#1a1208" stroke-width="0.45" textLength="94.24" lengthAdjust="spacingAndGlyphs">向上:竭尽缺口</text>
<text x="456.40" y="324.00" font-family="'Liberation Sans','WenQuanYi Zen Hei',sans-serif" font-size="15" fill="#1a1208" stroke="#1a1208" stroke-width="0.45" textLength="94.27" lengthAdjust="spacingAndGlyphs">缺口大小:中等</text>
<text x="374.00" y="376.70" font-family="'Liberation Sans','WenQuanYi Zen Hei',sans-serif" font-size="16" fill="#1a1208" textLength="138.03" lengthAdjust="spacing">2021-09-09 09:00</text>
<text x="626.70" y="282.40" font-family="'Liberation Sans','WenQuanYi Zen Hei',sans-serif" font-size="15" fill="#1a1208" stroke="#1a1208" stroke-width="0.45" textLength="247.80" lengthAdjust="spacingAndGlyphs">短期低点影线回补缺口第二根k线低点</text>
<text x="75.20" y="458.85" font-family="'Liberation Sans',sans-serif" font-size="16" fill="#222" textLength="37.85" lengthAdjust="spacing">52.67</text>
<text x="250.60" y="567.05" font-family="'Liberation Sans','WenQuanYi Zen Hei',sans-serif" font-size="15" fill="#fff5f5" stroke="#fff5f5" stroke-width="0.25" textLength="60.00" lengthAdjust="spacingAndGlyphs">突破缺口</text>
<text x="434.90" y="584.95" font-family="'Liberation Sans','WenQuanYi Zen Hei',sans-serif" font-size="15" fill="#f5fbff" stroke="#f5fbff" stroke-width="0.25" textLength="59.79" lengthAdjust="spacingAndGlyphs">中继缺口</text>
<text x="496.40" y="548.40" font-family="'Liberation Sans','WenQuanYi Zen Hei',sans-serif" font-size="15" fill="#1a1208" stroke="#1a1208" stroke-width="0.45" textLength="58.86" lengthAdjust="spacingAndGlyphs">竭尽缺口</text>
<circle cx="114.65" cy="706.5" r="10.9" fill="none" stroke="#000" stroke-width="2.1"/>
<text x="114.65" y="710.5" font-family="'Liberation Sans',sans-serif" font-size="12" fill="#333" text-anchor="middle">0</text>
<circle cx="202.0" cy="583.5" r="10.9" fill="none" stroke="#000" stroke-width="2.1"/>
<text x="202.0" y="587.5" font-family="'Liberation Sans',sans-serif" font-size="12" fill="#333" text-anchor="middle">1</text>
<circle cx="266.7" cy="653.9" r="10.9" fill="none" stroke="#000" stroke-width="2.1"/>
<text x="266.7" y="657.9" font-family="'Liberation Sans',sans-serif" font-size="12" fill="#333" text-anchor="middle">2</text>
<circle cx="386.65" cy="492.7" r="10.9" fill="none" stroke="#000" stroke-width="2.1"/>
<text x="386.65" y="496.7" font-family="'Liberation Sans',sans-serif" font-size="12" fill="#333" text-anchor="middle">3</text>
<circle cx="437.45" cy="547.8" r="10.9" fill="none" stroke="#000" stroke-width="2.1"/>
<text x="437.45" y="551.8" font-family="'Liberation Sans',sans-serif" font-size="12" fill="#333" text-anchor="middle">4</text>
<circle cx="534.3" cy="466.5" r="15.8" fill="none" stroke="#000" stroke-width="2.1"/>
<text x="534.3" y="470.5" font-family="'Liberation Sans',sans-serif" font-size="12" fill="#333" text-anchor="middle">5.1</text>
<circle cx="584.9" cy="440.05" r="15.8" fill="none" stroke="#000" stroke-width="2.1"/>
<text x="584.9" y="444.1" font-family="'Liberation Sans',sans-serif" font-size="12" fill="#333" text-anchor="middle">5.2</text>
</svg></body></html>
